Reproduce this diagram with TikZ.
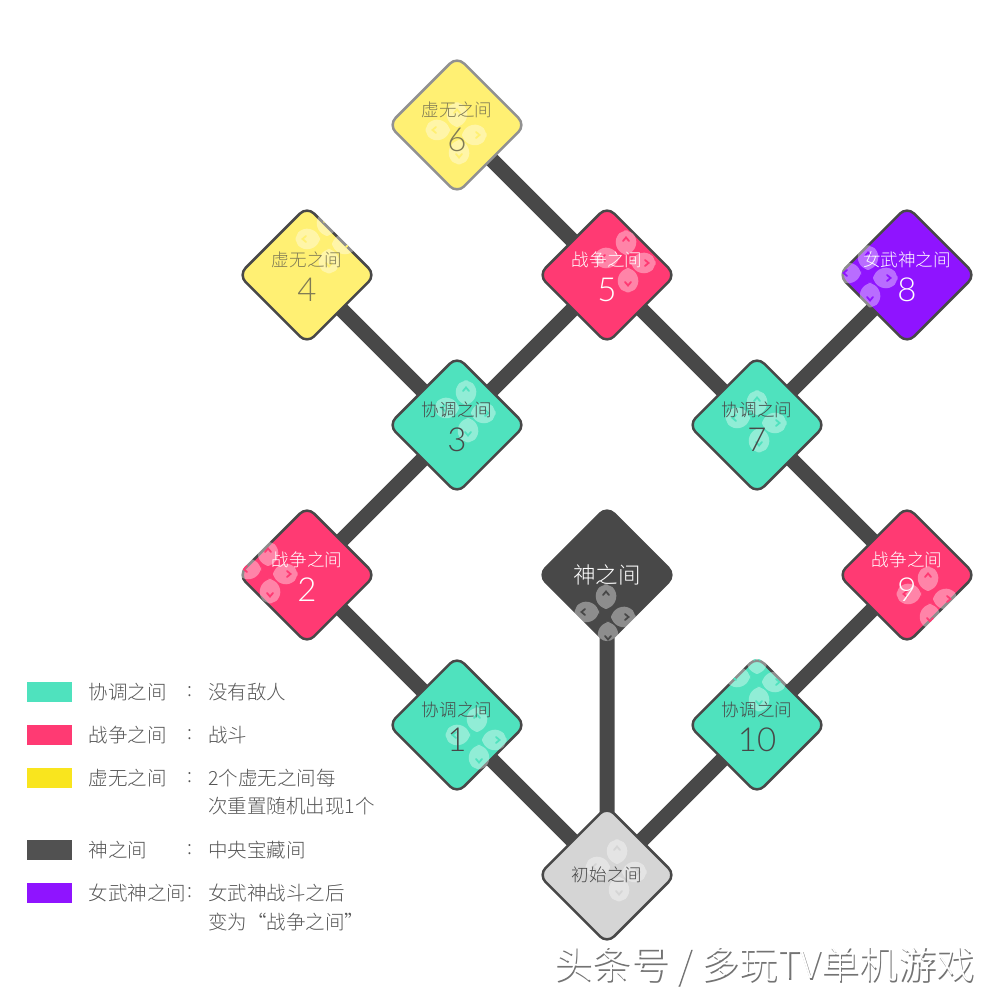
\documentclass[tikz,border=0pt]{standalone}
\usepackage{fontspec}
\setmainfont{Noto Sans CJK SC Light}
\newfontfamily\numfont{Lato Light}
\usetikzlibrary{positioning, shapes.geometric, backgrounds}

\definecolor{teal}{HTML}{4FE2BE}
\definecolor{pinkred}{HTML}{FF3A73}
\definecolor{lightyellow}{HTML}{FFF073}
\definecolor{keyyellow}{HTML}{F9E51E}
\definecolor{violetroom}{HTML}{8F14FF}
\definecolor{darkroom}{HTML}{484848}
\definecolor{startgrey}{HTML}{D5D5D5}
\definecolor{keytext}{HTML}{555555}

\tikzset{
  padleaf/.pic={
    \fill[white, fill opacity=.38, rounded corners=.05cm]
      (-.12,-.03) -- (-.04,-.105) -- (.07,-.10) -- (.125,-.03) -- (.125,.03) -- (.07,.10) -- (-.04,.105) -- (-.12,.03) -- cycle;
    \draw[padcol, line width=.018cm, line cap=round] (.02,.03) -- (.055,0) -- (.02,-.03);
  }
}

% four pale leaves with chevrons, cut off at the edge of the room
\newcommand{\padmark}[4]{
  \begin{scope}
    \colorlet{padcol}{#4}
    \clip[rounded corners=.1cm] (#1.north east) -- (#1.east) -- (#1.south) -- (#1.west) -- (#1.north) -- cycle;
    \begin{scope}[shift={(#1.center)}, xshift=#2cm, yshift=#3cm]
      \foreach \ang/\ox/\oy in {90/0/.18, 180/-.19/.03, 0/.17/-.02, 270/.02/-.19}
        \pic[rotate=\ang] at (\ox,\oy) {padleaf};
    \end{scope}
  \end{scope}
}

\begin{document}
\begin{tikzpicture}[on grid, node distance=1.5cm and 1.5cm,
    room/.style={diamond, draw=darkroom, line width=.025cm, minimum size=1.38cm, inner sep=0pt, rounded corners=.1cm},
    labeltext/.style={font=\fontsize{5}{6}\selectfont, inner sep=0pt},
    numtext/.style={font=\numfont\fontsize{9.4}{10}\selectfont, inner sep=0pt},
    link/.style={draw=darkroom, line width=.15cm},
    swatch/.style={minimum width=.45cm, minimum height=.2cm, inner sep=0pt},
    keyline/.style={font=\fontsize{5.55}{8.2}\selectfont, text=keytext, inner sep=0pt, anchor=west, align=left},
    wmark/.style={font=\fontsize{10.9}{12}\selectfont, inner sep=0pt}]

  \useasboundingbox (0,0) rectangle (10,10);

  % Rooms
  \node[room, fill=startgrey] at (6.07,1.25) (start) {};
  \node[room, fill=teal, above left=of start] (r1) {};
  \node[room, fill=pinkred, above left=of r1] (r2) {};
  \node[room, fill=teal, above right=of r2] (r3) {};
  \node[room, fill=lightyellow, above left=of r3] (r4) {};
  \node[room, fill=pinkred, above right=of r3] (r5) {};
  \node[room, fill=lightyellow, draw=darkroom!60, above left=of r5] (r6) {};
  \node[room, fill=teal, below right=of r5] (r7) {};
  \node[room, fill=violetroom, above right=of r7] (r8) {};
  \node[room, fill=pinkred, below right=of r7] (r9) {};
  \node[room, fill=teal, below left=of r9] (r10) {};
  \node[room, fill=darkroom, above=3cm of start] (god) {};

  % Links
  \begin{scope}[on background layer]
    \path[link]
      (start.center) -- (r1.center) (r1.center) -- (r2.center) (r2.center) -- (r3.center)
      (r3.center) -- (r4.center) (r3.center) -- (r5.center) (r5.center) -- (r6.center)
      (r5.center) -- (r7.center) (r7.center) -- (r8.center) (r7.center) -- (r9.center)
      (r9.center) -- (r10.center) (r10.center) -- (start.center) (start.center) -- (god.center);
  \end{scope}

  % Marks under the texts
  \padmark{start}{.10}{.05}{startgrey}
  \padmark{r1}{.20}{-.13}{teal}
  \padmark{r2}{-.39}{.03}{pinkred}
  \padmark{r3}{.09}{.14}{teal}
  \padmark{r4}{.20}{.33}{lightyellow}
  \padmark{r5}{.19}{.14}{pinkred}
  \padmark{r6}{0}{-.08}{lightyellow}
  \padmark{r7}{0}{.04}{teal}
  \padmark{r8}{-.39}{-.01}{violetroom}
  \padmark{r9}{.21}{-.22}{pinkred}
  \padmark{r10}{0}{.45}{teal}
  \padmark{god}{-.01}{-.40}{darkroom}

  % Room texts
  \node[labeltext, text=darkroom] at (start) (labstart) {初始之间};
  \node[labeltext, text=white, font=\fontsize{6.4}{8}\selectfont] at (god) (labgod) {神之间};
  \node[labeltext, text=darkroom, above=.15cm of r1] (lab1) {协调之间};
  \node[numtext, text=darkroom, below=.15cm of r1] (num1) {1};
  \node[labeltext, text=white, above=.15cm of r2] (lab2) {战争之间};
  \node[numtext, text=white, below=.15cm of r2] (num2) {2};
  \node[labeltext, text=darkroom, above=.15cm of r3] (lab3) {协调之间};
  \node[numtext, text=darkroom, below=.15cm of r3] (num3) {3};
  \node[labeltext, text=darkroom!70!lightyellow, above=.15cm of r4] (lab4) {虚无之间};
  \node[numtext, text=darkroom!70!lightyellow, below=.15cm of r4] (num4) {4};
  \node[labeltext, text=white, above=.15cm of r5] (lab5) {战争之间};
  \node[numtext, text=white, below=.15cm of r5] (num5) {5};
  \node[labeltext, text=darkroom!70!lightyellow, above=.15cm of r6] (lab6) {虚无之间};
  \node[numtext, text=darkroom!70!lightyellow, below=.15cm of r6] (num6) {6};
  \node[labeltext, text=darkroom, above=.15cm of r7] (lab7) {协调之间};
  \node[numtext, text=darkroom, below=.15cm of r7] (num7) {7};
  \node[labeltext, text=white, above=.15cm of r8] (lab8) {女武神之间};
  \node[numtext, text=white, below=.15cm of r8] (num8) {8};
  \node[labeltext, text=white, above=.15cm of r9] (lab9) {战争之间};
  \node[numtext, text=white, below=.15cm of r9] (num9) {9};
  \node[labeltext, text=darkroom, above=.15cm of r10] (lab10) {协调之间};
  \node[numtext, text=darkroom, below=.15cm of r10] (num10) {10};

  % Key
  \node[swatch, fill=teal] at (.495,3.08) (sw1) {};
  \node[swatch, fill=pinkred, below=.43cm of sw1] (sw2) {};
  \node[swatch, fill=keyyellow, below=.43cm of sw2] (sw3) {};
  \node[swatch, fill=darkroom!95!white, below=.72cm of sw3] (sw4) {};
  \node[swatch, fill=violetroom, below=.43cm of sw4] (sw5) {};

  \node[keyline, right=.385cm of sw1, anchor=west] (name1) {协调之间};
  \node[keyline, right=.385cm of sw2, anchor=west] (name2) {战争之间};
  \node[keyline, right=.385cm of sw3, anchor=west] (name3) {虚无之间};
  \node[keyline, right=.385cm of sw4, anchor=west] (name4) {神之间};
  \node[keyline, right=.385cm of sw5, anchor=west] (name5) {女武神之间};

  \node[keyline, right=1.37cm of sw1, anchor=west] (colon1) {:};
  \node[keyline, right=1.37cm of sw2, anchor=west] (colon2) {:};
  \node[keyline, right=1.37cm of sw3, anchor=west] (colon3) {:};
  \node[keyline, right=1.37cm of sw4, anchor=west] (colon4) {:};
  \node[keyline, right=1.37cm of sw5, anchor=west] (colon5) {:};

  \node[keyline, right=1.58cm of sw1, anchor=west] (note1) {没有敌人};
  \node[keyline, right=1.58cm of sw2, anchor=west] (note2) {战斗};
  \node[keyline, right=1.58cm of sw3, anchor=north west, yshift=.1cm] (note3) {2个虚无之间每\\次重置随机出现1个};
  \node[keyline, right=1.58cm of sw4, anchor=west] (note4) {中央宝藏间};
  \node[keyline, right=1.58cm of sw5, anchor=north west, yshift=.1cm] (note5) {女武神战斗之后\\变为“战争之间”};

  % Watermark
  \node[wmark, text=black!55, anchor=east] at (9.765,.325) (wmshadow) {头条号 / 多玩TV单机游戏};
  \node[wmark, text=white, anchor=east] at (9.75,.34) (wmarktext) {头条号 / 多玩TV单机游戏};
\end{tikzpicture}
\end{document}
